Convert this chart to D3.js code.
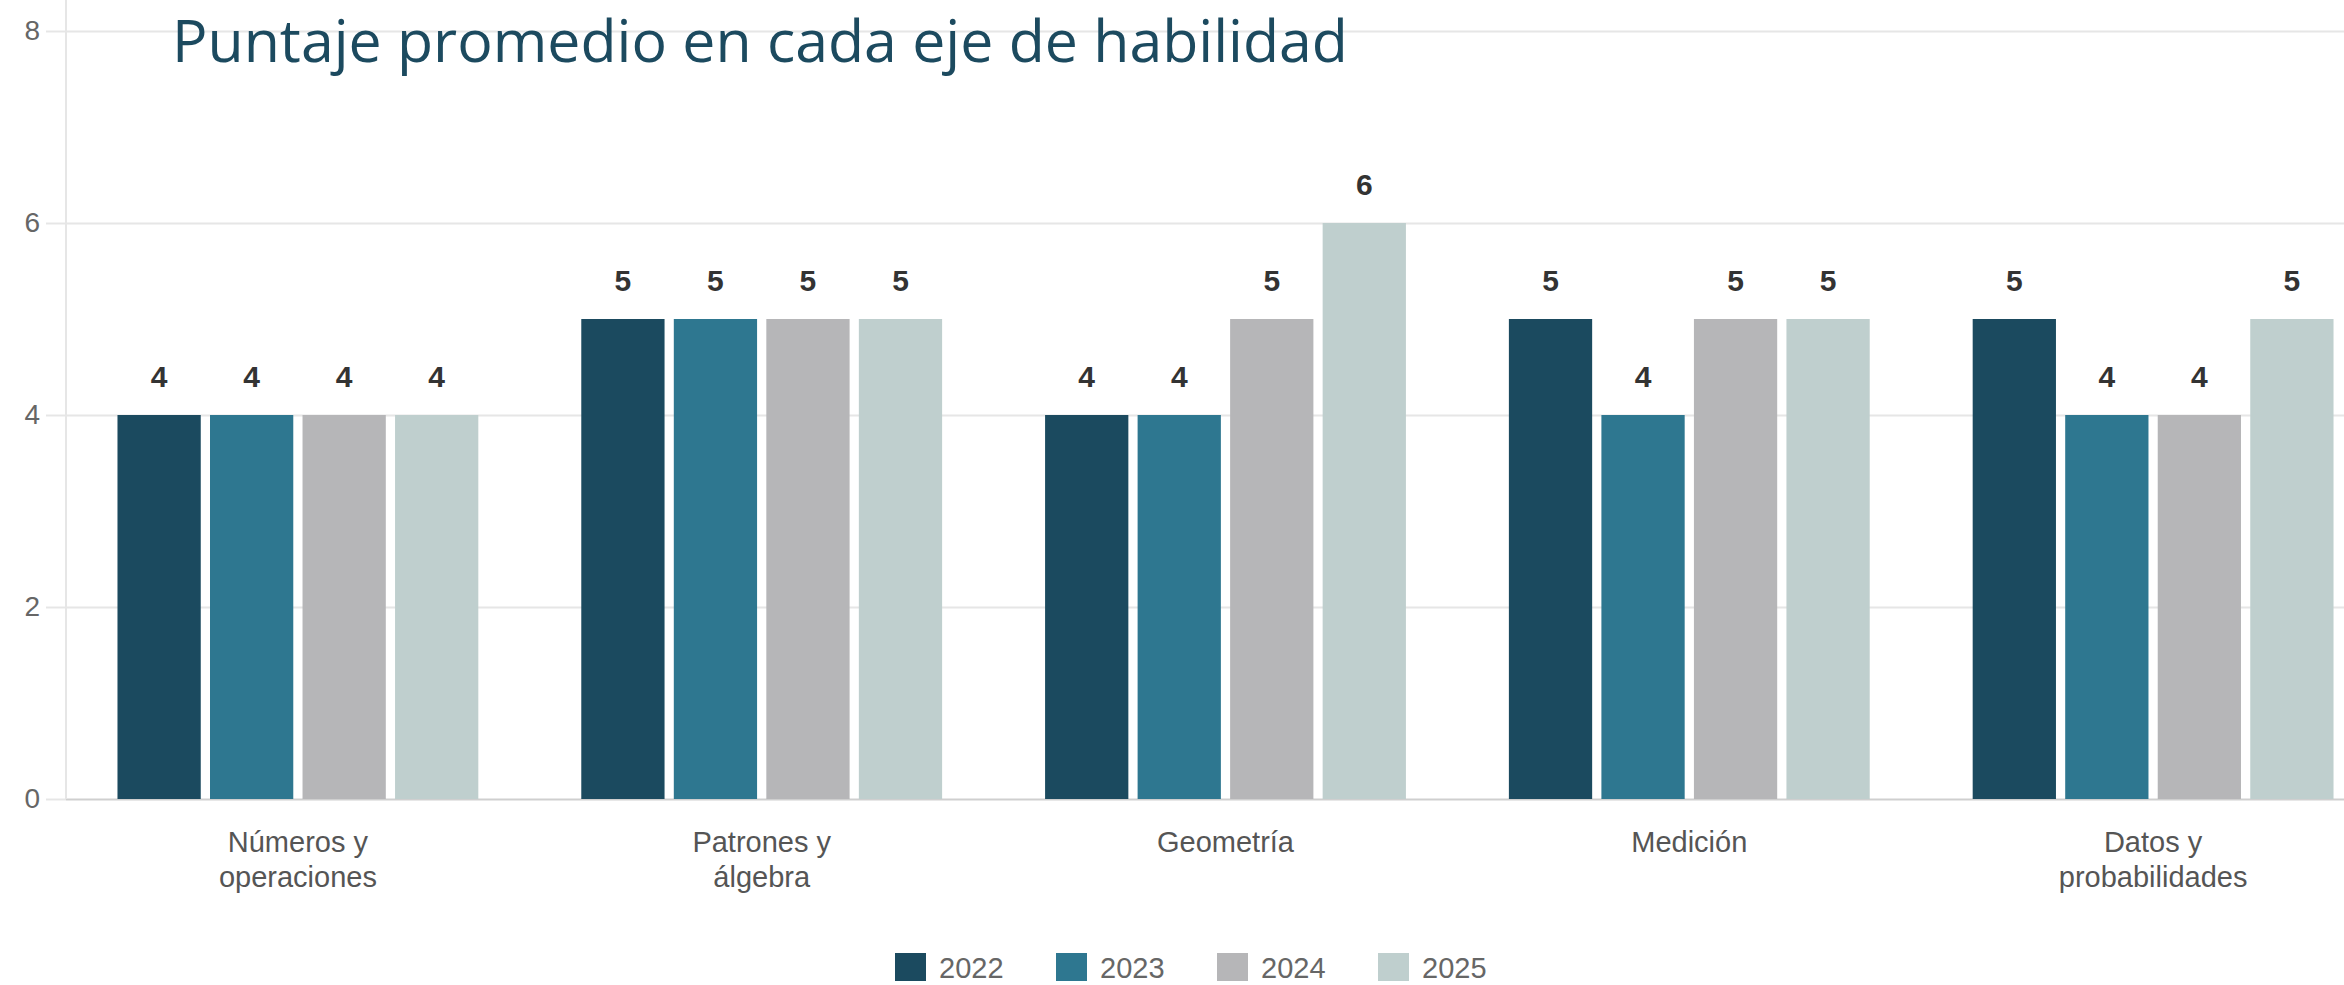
<!DOCTYPE html>
<html lang="es">
<head>
<meta charset="utf-8">
<script src="https://d3js.org/d3.v7.min.js"></script>
<style>
  html, body { margin: 0; padding: 0; background: #fff; }
  svg { display: block; }
</style>
</head>
<body>
<div id="chart"></div>
<script>
// categorias (ejes de habilidad) y sus etiquetas en lineas
var categories = ["Números y operaciones", "Patrones y álgebra", "Geometría", "Medición", "Datos y probabilidades"];
var categoryLines = [["Números y", "operaciones"], ["Patrones y", "álgebra"], ["Geometría"], ["Medición"], ["Datos y", "probabilidades"]];
var years = ["2022", "2023", "2024", "2025"];
var values2022 = [4, 5, 4, 5, 5];
var values2023 = [4, 5, 4, 4, 4];
var values2024 = [4, 5, 5, 5, 4];
var values2025 = [4, 5, 6, 5, 5];
var yTicks = [0, 2, 4, 6, 8];
var colors = ["#1b4a5f", "#2e7790", "#b6b6b8", "#bfcfce"];
var title = "Puntaje promedio en cada eje de habilidad";

var series = [values2022, values2023, values2024, values2025];
var data = categories.map(function (c, i) {
  return { cat: c, lines: categoryLines[i], vals: years.map(function (y, j) { return { year: y, value: series[j][i] }; }) };
});

var width = 2344, height = 985;
var svg = d3.select("#chart").append("svg")
  .attr("width", width).attr("height", height);

var y = d3.scaleLinear().domain([0, 8]).range([799, 31]);
var x0 = d3.scaleBand().domain(categories).range([66, 2385])
  .paddingInner(0.222).paddingOuter(0.111);
var x1 = d3.scaleBand().domain(years).range([0, x0.bandwidth()]).paddingInner(0.1);
var color = d3.scaleOrdinal().domain(years).range(colors);

// grid + eje y
var yAxis = d3.axisLeft(y).tickValues(yTicks).tickSize(20).tickPadding(6);
var gy = svg.append("g").attr("transform", "translate(66,0)").call(yAxis);
gy.select(".domain").remove();
gy.selectAll(".tick line").attr("stroke", "#e6e6e6").attr("stroke-width", 2);
gy.selectAll(".tick text")
  .attr("fill", "#666").style("font-family", "'Liberation Sans', Arial, sans-serif")
  .style("font-size", "28px");
gy.selectAll(".tick").append("line")
  .attr("x1", 0).attr("x2", width)
  .attr("stroke", function (d) { return d === 0 ? "#cfcfcf" : "#e6e6e6"; })
  .attr("stroke-width", 2);
svg.append("line")
  .attr("x1", 66).attr("x2", 66).attr("y1", 0).attr("y2", 799)
  .attr("stroke", "#e6e6e6").attr("stroke-width", 2);

// titulo
svg.append("text")
  .attr("x", 172).attr("y", 62)
  .attr("fill", "#1c4a5f")
  .style("font-family", "'Open Sans', 'Noto Sans', sans-serif")
  .style("font-size", "59px")
  .text(title);

// barras
var groups = svg.append("g").selectAll("g")
  .data(data).enter().append("g")
  .attr("transform", function (d) { return "translate(" + x0(d.cat) + ",0)"; });

groups.selectAll("rect")
  .data(function (d) { return d.vals; }).enter().append("rect")
  .attr("x", function (d) { return x1(d.year); })
  .attr("y", function (d) { return y(d.value); })
  .attr("width", x1.bandwidth())
  .attr("height", function (d) { return y(0) - y(d.value); })
  .attr("fill", function (d) { return color(d.year); });

groups.selectAll("text.val")
  .data(function (d) { return d.vals; }).enter().append("text")
  .attr("class", "val")
  .attr("x", function (d) { return x1(d.year) + x1.bandwidth() / 2; })
  .attr("y", function (d) { return y(d.value) - 28; })
  .attr("text-anchor", "middle")
  .attr("fill", "#333")
  .style("font-family", "'Liberation Sans', Arial, sans-serif")
  .style("font-weight", "bold")
  .style("font-size", "30px")
  .text(function (d) { return d.value; });

// etiquetas de categoria
var labels = svg.append("g").selectAll("text")
  .data(data).enter().append("text")
  .attr("x", function (d) { return x0(d.cat) + x0.bandwidth() / 2; })
  .attr("y", 852)
  .attr("text-anchor", "middle")
  .attr("fill", "#555")
  .style("font-family", "'Liberation Sans', Arial, sans-serif")
  .style("font-size", "29px");
labels.selectAll("tspan")
  .data(function (d) { return d.lines; }).enter().append("tspan")
  .attr("x", function () { return d3.select(this.parentNode).attr("x"); })
  .attr("dy", function (d, i) { return i === 0 ? 0 : 35; })
  .text(function (d) { return d; });

// leyenda
var legend = svg.append("g").selectAll("g")
  .data(years).enter().append("g")
  .attr("transform", function (d, i) { return "translate(" + (895 + i * 161) + ",953)"; });
legend.append("rect")
  .attr("width", 31).attr("height", 28)
  .attr("fill", function (d) { return color(d); });
legend.append("text")
  .attr("x", 44).attr("y", 25)
  .attr("fill", "#666")
  .style("font-family", "'Liberation Sans', Arial, sans-serif")
  .style("font-size", "29px")
  .text(function (d) { return d; });
</script>
</body>
</html>
